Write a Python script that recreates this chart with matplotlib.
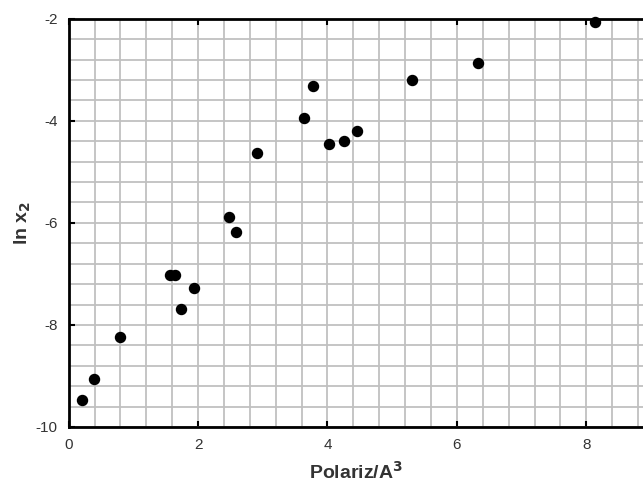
import numpy as np
from matplotlib import pyplot as plt
from matplotlib.ticker import MultipleLocator

# points
polariz = [0.20, 0.39, 0.79, 1.57, 1.65, 1.74, 1.94, 2.48, 2.59, 2.91,
           3.63, 3.77, 4.03, 4.25, 4.45, 5.30, 6.32, 8.13]
ln_x2 = [-9.47, -9.06, -8.24, -7.03, -7.03, -7.69, -7.28, -5.88, -6.18, -4.62,
         -3.95, -3.31, -4.45, -4.40, -4.19, -3.20, -2.86, -2.07]

plt.rcParams['font.family'] = ['Liberation Sans', 'DejaVu Sans']
plt.rcParams['axes.unicode_minus'] = False

fig = plt.figure(figsize=(6.43, 4.83), dpi=100)
ax = fig.add_axes([0.1068, 0.116, 0.8932, 0.845])

ax.scatter(polariz, ln_x2, s=52, color='black', zorder=3, clip_on=False)

ax.set_xlim(0, 8.876)
ax.set_ylim(-10, -2)
ax.xaxis.set_major_locator(MultipleLocator(2))
ax.yaxis.set_major_locator(MultipleLocator(2))
ax.xaxis.set_minor_locator(MultipleLocator(0.4))
ax.yaxis.set_minor_locator(MultipleLocator(0.4))
ax.grid(which='both', color='#c0c0c0', linewidth=1.3)
ax.set_axisbelow(True)

ax.tick_params(which='major', direction='in', length=4, width=1.5,
               top=True, labelsize=11, colors='black', pad=8)
ax.tick_params(which='minor', length=0)
for lbl in ax.get_xticklabels() + ax.get_yticklabels():
    lbl.set_color('#333333')

for side in ['left', 'top', 'bottom']:
    ax.spines[side].set_linewidth(2)
ax.spines['right'].set_visible(False)

ax.set_xlabel('Polariz/A$^\\mathbf{3}$', fontsize=14, fontweight='bold',
              color='#333333')
ax.xaxis.set_label_coords(0.5, -0.082)
ax.set_ylabel('ln x$_\\mathbf{2}$', fontsize=14, fontweight='bold',
              color='#333333')
ax.yaxis.set_label_coords(-0.062, 0.5)

fig.savefig('out.png', dpi=100)
